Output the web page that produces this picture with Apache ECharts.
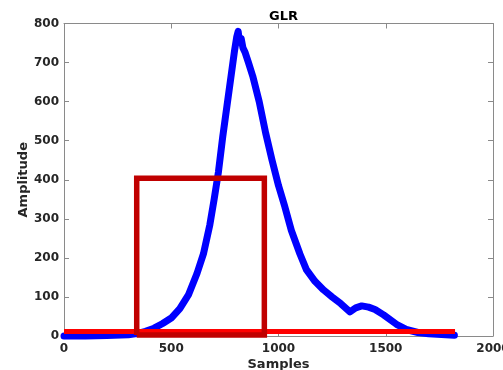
<!DOCTYPE html>
<html>
<head>
<meta charset="utf-8">
<script src="https://cdn.jsdelivr.net/npm/echarts@6/dist/echarts.min.js"></script>
<style>
html,body{margin:0;padding:0;background:#fff;}
#chart{width:503px;height:370px;}
</style>
</head>
<body>
<div id="chart"></div>
<script>
var samples = [0,100,200,300,340,380,420,460,500,540,580,620,650,680,700,720,740,760,780,795,805,812,818,826,834,845,860,880,910,940,970,1000,1030,1060,1100,1130,1170,1210,1250,1290,1333,1360,1388,1420,1450,1490,1550,1600,1650,1700,1760,1820];
var amplitude = [0,0,1,3,6,12,20,32,46,70,105,160,210,285,350,420,510,590,670,730,765,780,752,762,738,725,700,665,600,520,450,385,330,270,210,170,140,118,100,83,62,72,77,74,68,54,30,16,9,6,4,2];
var boxX = [339,339,934,934,339];
var boxY = [2.5,404,404,2.5,2.5];
var thresholdX = [0,1823];
var thresholdY = [11.5,11.5];
var xTicks = [0,500,1000,1500,2000];
var yTicks = [0,100,200,300,400,500,600,700,800];

function pairs(xs, ys){ return xs.map(function(x,i){ return [x, ys[i]]; }); }
function plain(v){ return String(v); }

var font = 'DejaVu Sans';
var axisGray = '#8a8a8a';
var chart = echarts.init(document.getElementById('chart'), null, {renderer:'canvas'});
chart.setOption({
  animation:false,
  title:{text:'GLR', left:278.5, top:5, textAlign:'center',
    textStyle:{fontFamily:font, fontWeight:'bold', fontSize:13, color:'#000'}},
  grid:{left:64, right:10, top:23.5, bottom:34, containLabel:false, outerBoundsMode:'none'},
  xAxis:[{
    type:'value', min:xTicks[0], max:xTicks[xTicks.length-1], interval:500,
    name:'Samples', nameLocation:'middle', nameGap:22.5, nameMoveOverlap:false,
    nameTextStyle:{fontFamily:font, fontWeight:'bold', fontSize:13, color:'#262626'},
    axisLine:{show:true, onZero:false, lineStyle:{color:axisGray, width:1}},
    axisTick:{show:true, inside:true, length:5, lineStyle:{color:axisGray}},
    axisLabel:{fontFamily:font, fontWeight:'bold', fontSize:12, color:'#262626', margin:7, showMaxLabel:true, formatter:plain},
    splitLine:{show:false}
  },{
    type:'value', position:'top', min:0, max:2000, interval:500,
    axisLine:{show:true, onZero:false, lineStyle:{color:axisGray, width:1}},
    axisTick:{show:true, inside:true, length:5, lineStyle:{color:axisGray}},
    axisLabel:{show:false}, splitLine:{show:false}
  }],
  yAxis:[{
    type:'value', min:yTicks[0], max:yTicks[yTicks.length-1], interval:100,
    name:'Amplitude', nameLocation:'middle', nameGap:33.5, nameRotate:90, nameMoveOverlap:false,
    nameTextStyle:{fontFamily:font, fontWeight:'bold', fontSize:13, color:'#262626'},
    axisLine:{show:true, onZero:false, lineStyle:{color:axisGray, width:1}},
    axisTick:{show:true, inside:true, length:5, lineStyle:{color:axisGray}},
    axisLabel:{fontFamily:font, fontWeight:'bold', fontSize:12, color:'#262626', margin:5, formatter:plain},
    splitLine:{show:false}
  },{
    type:'value', position:'right', min:0, max:800, interval:100,
    axisLine:{show:true, onZero:false, lineStyle:{color:axisGray, width:1}},
    axisTick:{show:true, inside:true, length:5, lineStyle:{color:axisGray}},
    axisLabel:{show:false}, splitLine:{show:false}
  }],
  series:[{
    type:'line', data:pairs(samples, amplitude), showSymbol:false, symbol:'none', clip:false,
    lineStyle:{color:'#0000ff', width:7, cap:'round', join:'round'}, z:2
  },{
    type:'line', data:pairs(thresholdX, thresholdY), showSymbol:false, symbol:'none', clip:false,
    lineStyle:{color:'#ff0000', width:5}, z:3
  },{
    type:'line', data:pairs(boxX, boxY), showSymbol:false, symbol:'none', clip:false,
    lineStyle:{color:'#c00000', width:5.5, join:'miter'}, z:4
  }]
});
</script>
</body>
</html>
